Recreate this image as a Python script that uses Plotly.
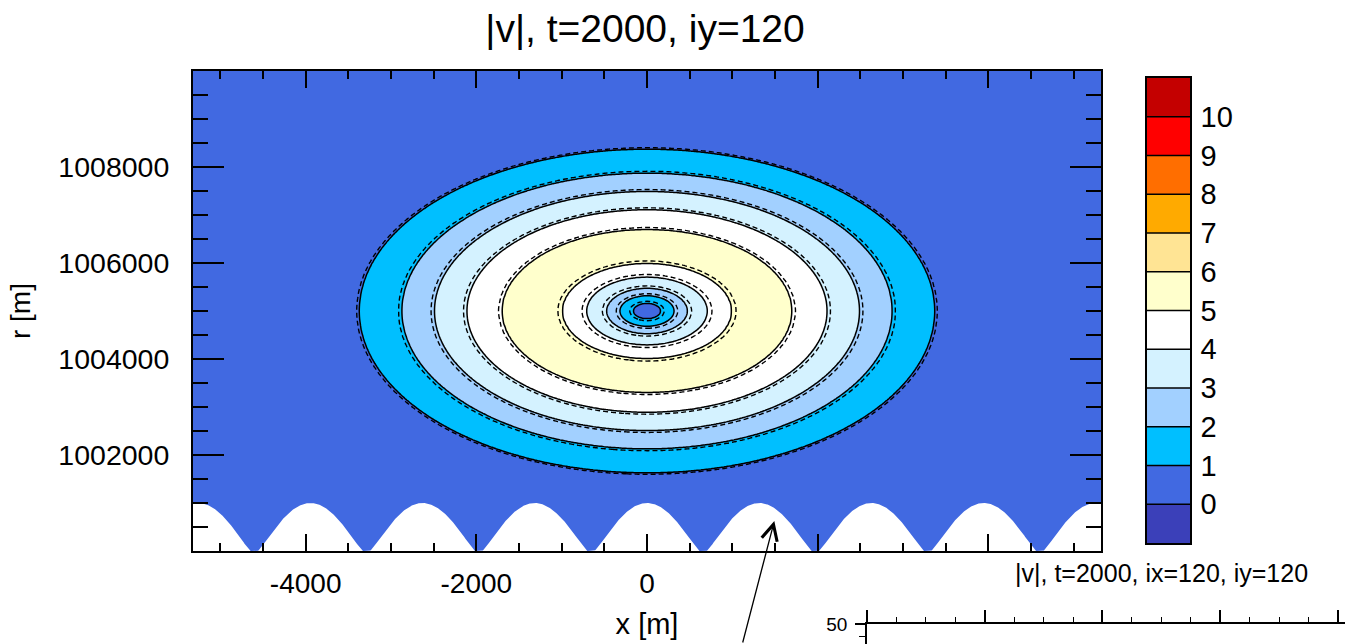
import numpy as np
import plotly.graph_objects as go

# ---------------- data ----------------
# axis extents (m)
x_range = [-5320, 5320]
r_range = [1000000, 1010000]
x_tickvals = [-4000, -2000, 0, 2000, 4000]
x_ticktext = ["-4000", "-2000", "0", "", ""]
r_tickvals = [1002000, 1004000, 1006000, 1008000]
r_ticktext = ["1002000", "1004000", "1006000", "1008000"]

# vortex centre
vortex_x = 0.0
vortex_r = 1005000.0

# radial profile of |v| (filled, solid contours)
profile_dist = [0, 160, 317, 470, 705, 987, 1300, 1700, 2110, 2490, 2870, 3370, 3650, 7000]
profile_speed = [0.3, 1, 2, 3, 4, 5, 5.6, 5, 4, 3, 2, 1, 0.55, 0.5]

# reference profile of |v| (dashed contours)
ref_dist = [0, 205, 360, 520, 760, 1040, 1330, 1740, 2150, 2530, 2910, 3400, 3680, 7000]
ref_speed = [0.3, 1, 2, 3, 4, 5, 5.6, 5, 4, 3, 2, 1, 0.55, 0.5]

# contour levels and band colours (below 0, 0-1, ..., 9-10, above 10)
levels = list(range(0, 11))
band_colors = ["#3b40b9", "#4169e1", "#00bfff", "#a2d0ff", "#d4f2ff", "#ffffff",
               "#ffffcc", "#ffe494", "#ffaa00", "#ff6e00", "#ff0000", "#c40000"]

# bottom topography: periodic hills
hill_crest_x = 0.0
hill_spacing = 1315.0
hill_height = 1000.0
hill_valley_round = 0.15    # rounding of the troughs (fraction of height)
hill_valley_flat = 0.18     # troughs reach the lower boundary below this level

# inset panel axes
inset_x_range = [0, 40.6]
inset_r_range = [42.3, 50]

# ---------------- fields ----------------
gx = np.linspace(-5400, 5400, 361)
gy = np.linspace(999900, 1010100, 341)
GX, GY = np.meshgrid(gx, gy)
dist = np.hypot(GX - vortex_x, GY - vortex_r)
speed = np.interp(dist, profile_dist, profile_speed)
speed_ref = np.interp(dist, ref_dist, ref_speed)

n_bands = len(band_colors)
band_scale = [[i / (n_bands - 1), c] for i, c in enumerate(band_colors)]

# hill shape: rounded |cos| between crests
tx = np.linspace(x_range[0] - 50, x_range[1] + 50, 1600)
s = np.sqrt(np.cos(np.pi * (tx - hill_crest_x) / hill_spacing) ** 2 + hill_valley_round ** 2)
s_top = np.sqrt(1 + hill_valley_round ** 2)
th = hill_height * np.clip((s - hill_valley_flat) / (s_top - hill_valley_flat), 0, None)
terrain_x = np.concatenate([tx, [tx[-1], tx[0]]])
terrain_y = np.concatenate([r_range[0] + th, [r_range[0] - 500, r_range[0] - 500]])

FONT = "Liberation Sans, Arial, Helvetica, sans-serif"

fig = go.Figure()

fig.add_trace(go.Contour(
    x=gx, y=gy, z=speed, autocontour=False,
    contours=dict(start=levels[0], end=levels[-1], size=1, coloring="fill"),
    colorscale=band_scale, line=dict(color="black", width=1.5),
    showscale=False, hoverinfo="skip", xaxis="x", yaxis="y"))

fig.add_trace(go.Contour(
    x=gx, y=gy, z=speed_ref, autocontour=False,
    contours=dict(start=levels[0], end=levels[-1], size=1, coloring="none"),
    line=dict(color="black", width=1.4, dash="5px,3px"),
    showscale=False, hoverinfo="skip", xaxis="x", yaxis="y"))

fig.add_trace(go.Scatter(
    x=terrain_x, y=terrain_y, fill="toself", fillcolor="white",
    mode="lines", line=dict(width=0, color="white"),
    hoverinfo="skip", showlegend=False, xaxis="x", yaxis="y"))

# label bar
bar_centres = [lv - 0.5 for lv in levels] + [levels[-1] + 0.5]
fig.add_trace(go.Heatmap(
    x=[0], y=bar_centres, z=[[i] for i in range(n_bands)],
    colorscale=band_scale, zmin=0, zmax=n_bands - 1,
    showscale=False, hoverinfo="skip", xaxis="x2", yaxis="y2"))

# inset panel (empty frame)
fig.add_trace(go.Scatter(x=[None], y=[None], mode="lines", showlegend=False,
                         hoverinfo="skip", xaxis="x3", yaxis="y3"))

shapes = []
for lv in levels:
    shapes.append(dict(type="line", xref="x2 domain", yref="y2", x0=0, x1=1,
                       y0=lv, y1=lv, line=dict(color="black", width=1.3)))

W, H = 1345, 644
px = lambda v: v / W
py = lambda v: (H - v) / H

fig.update_layout(
    width=W, height=H, autosize=False,
    margin=dict(l=0, r=0, t=0, b=0, autoexpand=False),
    paper_bgcolor="white", plot_bgcolor="white",
    font=dict(family=FONT, color="black", size=28),
    showlegend=False,
    title=dict(text="|v|, t=2000, iy=120", x=px(645), xanchor="center",
               y=py(28), yanchor="middle", font=dict(size=39, family=FONT)),
    xaxis=dict(domain=[px(193), px(1101)], range=x_range, anchor="y",
               tickmode="array", tickvals=x_tickvals, ticktext=x_ticktext,
               ticks="inside", ticklen=17, tickwidth=2, tickcolor="black",
               minor=dict(tickmode="linear", tick0=0, dtick=500, ticks="inside",
                          ticklen=8, tickwidth=1.5, tickcolor="black", showgrid=False),
               showline=True, linewidth=2, linecolor="black", mirror="ticks",
               showgrid=False, zeroline=False, ticklabelstandoff=6,
               tickfont=dict(size=28),
               title=dict(text="x [m]", font=dict(size=29), standoff=16)),
    yaxis=dict(domain=[py(551), py(71)], range=r_range, anchor="x",
               tickmode="array", tickvals=r_tickvals, ticktext=r_ticktext,
               ticks="inside", ticklen=31, tickwidth=2, tickcolor="black",
               minor=dict(tickmode="linear", tick0=r_range[0], dtick=500, ticks="inside",
                          ticklen=15, tickwidth=1.5, tickcolor="black", showgrid=False),
               showline=True, linewidth=2, linecolor="black", mirror="ticks",
               showgrid=False, zeroline=False, ticklabelstandoff=16,
               tickfont=dict(size=28.5),
               title=dict(text="r [m]", font=dict(size=28), standoff=20)),
    xaxis2=dict(domain=[px(1147), px(1190)], range=[-0.5, 0.5], anchor="y2",
                showticklabels=False, ticks="", showline=True, linewidth=1.5,
                linecolor="black", mirror=True, showgrid=False, zeroline=False),
    yaxis2=dict(domain=[py(543), py(78)], range=[-1, 11], anchor="x2", side="right",
                tickmode="array", tickvals=levels, ticks="", ticklabelstandoff=3,
                tickfont=dict(size=29), showline=True, linewidth=1.5,
                linecolor="black", mirror=True, showgrid=False, zeroline=False),
    xaxis3=dict(domain=[px(867), 1.0], range=inset_x_range, anchor="y3", side="top",
                tickmode="linear", tick0=0, dtick=10, ticks="outside", ticklen=12,
                tickwidth=1.5, tickcolor="black", showticklabels=False,
                minor=dict(tickmode="linear", tick0=0, dtick=2.5, ticks="outside",
                           ticklen=5, tickwidth=1, tickcolor="black"),
                showline=True, linewidth=1.5, linecolor="black",
                showgrid=False, zeroline=False),
    yaxis3=dict(domain=[0, py(624)], range=inset_r_range, anchor="x3",
                tickmode="linear", tick0=0, dtick=10, ticks="outside", ticklen=10,
                tickwidth=1.5, tickcolor="black", tickfont=dict(size=19),
                ticklabelstandoff=4,
                minor=dict(tickmode="linear", tick0=0, dtick=5, ticks="outside",
                           ticklen=6, tickwidth=1, tickcolor="black"),
                showline=True, linewidth=1.5, linecolor="black",
                showgrid=False, zeroline=False),
    shapes=shapes,
    annotations=[
        dict(text="|v|, t=2000, ix=120, iy=120", xref="paper", yref="paper",
             x=px(1161), y=py(573), xanchor="center", yanchor="middle",
             showarrow=False, font=dict(size=25, family=FONT)),
        dict(text="", xref="x", yref="y", x=1492, y=1000625,
             showarrow=True, arrowhead=5, arrowsize=2.4, arrowwidth=1.3,
             arrowcolor="black", ax=-32, ay=128),
    ],
)

fig.write_html("out.html")
